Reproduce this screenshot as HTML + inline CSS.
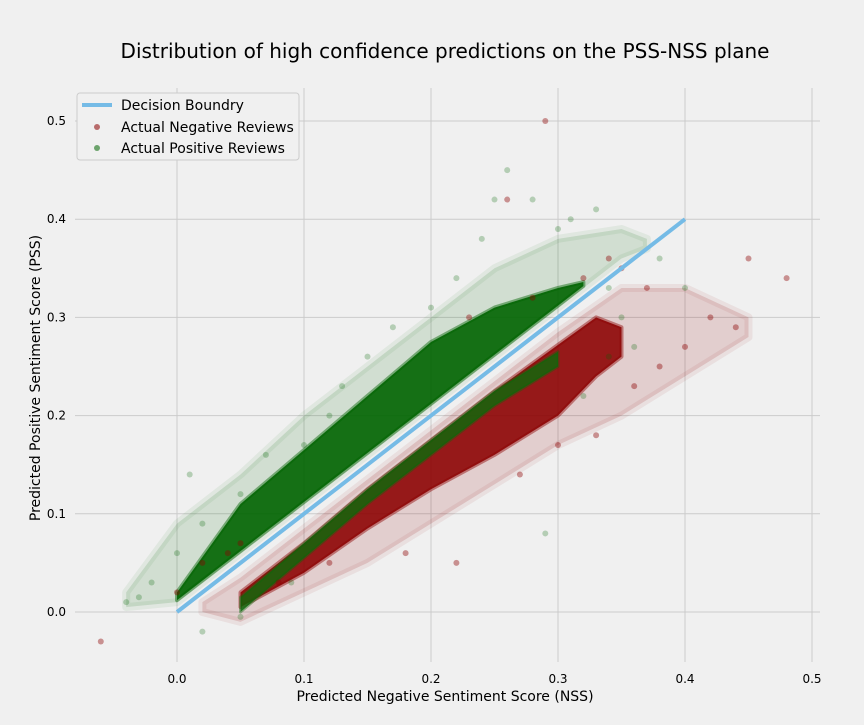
<!DOCTYPE html>
<html><head><meta charset="utf-8"><style>
body{margin:0;background:#f0f0f0;font-family:"Liberation Sans","DejaVu Sans",sans-serif}
svg text{font-family:"DejaVu Sans","Liberation Sans",sans-serif}
</style></head><body>
<svg id="chart" width="864" height="720" xmlns="http://www.w3.org/2000/svg">
<rect width="864" height="720" fill="#f0f0f0"/>
<text x="445" y="58" font-size="20" text-anchor="middle" fill="#000">Distribution of high confidence predictions on the PSS-NSS plane</text>
<g id="grid"></g>
<g id="marks"></g>
<g id="axes"></g>
<text x="445" y="701" font-size="14" text-anchor="middle">Predicted Negative Sentiment Score (NSS)</text>
<text transform="translate(40,378) rotate(-90)" font-size="14" text-anchor="middle">Predicted Positive Sentiment Score (PSS)</text>
<g>
<rect x="77" y="93" width="222" height="67" fill="#f0f0f0" stroke="#cccccc" rx="3"/>
<line x1="82" y1="105" x2="112" y2="105" stroke="#75bbe6" stroke-width="4"/>
<text x="121" y="110" font-size="14">Decision Boundry</text>
<circle cx="97" cy="127" r="3" fill="#8b0000" fill-opacity="0.55"/>
<text x="121" y="132" font-size="14">Actual Negative Reviews</text>
<circle cx="97" cy="148" r="3" fill="#006400" fill-opacity="0.55"/>
<text x="121" y="153" font-size="14">Actual Positive Reviews</text>
</g>
</svg>
<script>
const xTicks=[0.0,0.1,0.2,0.3,0.4,0.5];
const yTicks=[0.0,0.1,0.2,0.3,0.4,0.5];
const greenHaloX=[-0.04,0.0,0.05,0.1,0.15,0.2,0.25,0.3,0.35,0.37];
const greenHaloLo=[0.005,0.01,0.06,0.11,0.16,0.21,0.26,0.31,0.36,0.37];
const greenHaloHi=[0.02,0.09,0.14,0.2,0.25,0.3,0.35,0.38,0.39,0.38];
const greenCoreX=[0.0,0.05,0.1,0.15,0.2,0.25,0.3,0.32];
const greenCoreLo=[0.012,0.062,0.112,0.162,0.212,0.262,0.312,0.332];
const greenCoreHi=[0.02,0.11,0.165,0.22,0.275,0.31,0.33,0.336];
const redHaloX=[0.02,0.05,0.1,0.15,0.2,0.25,0.3,0.35,0.4,0.45];
const redHaloLo=[0.0,-0.01,0.02,0.05,0.09,0.13,0.17,0.2,0.24,0.28];
const redHaloHi=[0.01,0.035,0.085,0.135,0.185,0.235,0.285,0.33,0.33,0.3];
const redCoreX=[0.05,0.1,0.15,0.2,0.25,0.3,0.33,0.35];
const redCoreLo=[0.005,0.04,0.085,0.125,0.16,0.2,0.24,0.26];
const redCoreHi=[0.02,0.07,0.125,0.175,0.225,0.272,0.3,0.29];
const stripeX=[0.05,0.1,0.15,0.2,0.25,0.3];
const stripeLo=[0.0,0.055,0.11,0.16,0.21,0.25];
const stripeHi=[0.015,0.07,0.125,0.175,0.225,0.265];
const greenX=[-0.04,-0.03,-0.02,0.0,0.01,0.02,0.05,0.07,0.1,0.12,0.13,0.15,0.17,0.2,0.22,0.24,0.25,0.26,0.28,0.3,0.31,0.33,0.34,0.35,0.38,0.4,0.02,0.05,0.09,0.29,0.32,0.34,0.36];
const greenY=[0.01,0.015,0.03,0.06,0.14,0.09,0.12,0.16,0.17,0.2,0.23,0.26,0.29,0.31,0.34,0.38,0.42,0.45,0.42,0.39,0.40,0.41,0.33,0.30,0.36,0.33,-0.02,-0.005,0.03,0.08,0.22,0.26,0.27];
const redX=[-0.06,0.0,0.02,0.04,0.05,0.08,0.12,0.18,0.22,0.27,0.3,0.33,0.36,0.38,0.4,0.42,0.44,0.45,0.48,0.37,0.34,0.29,0.26,0.23,0.32,0.28,0.35];
const redY=[-0.03,0.02,0.05,0.06,0.07,0.03,0.05,0.06,0.05,0.14,0.17,0.18,0.23,0.25,0.27,0.3,0.29,0.36,0.34,0.33,0.36,0.5,0.42,0.3,0.34,0.32,0.35];
const sx=v=>177+v*1270, sy=v=>612-v*982;
const NS='http://www.w3.org/2000/svg';
function mk(t,a,p){const e=document.createElementNS(NS,t);for(const k in a)e.setAttribute(k,a[k]);p.appendChild(e);return e;}
const grid=document.getElementById('grid'),marks=document.getElementById('marks'),axes=document.getElementById('axes');
xTicks.forEach(t=>{const l=mk('line',{x1:sx(t),x2:sx(t),y1:88,y2:662,stroke:'#cbcbcb','stroke-width':1},grid);

const tx=mk('text',{x:sx(t),y:683,'font-size':12,'text-anchor':'middle'},axes);tx.textContent=t.toFixed(1);
});
yTicks.forEach(t=>{const l=mk('line',{x1:75,x2:820,y1:sy(t),y2:sy(t),stroke:'#cbcbcb','stroke-width':1},grid);

const tx=mk('text',{x:66,y:sy(t)+4,'font-size':12,'text-anchor':'end'},axes);tx.textContent=t.toFixed(1);
});
function band(xs,lo,hi,col,op,sw,name){let d='';xs.forEach((x,i)=>{d+=(i?'L':'M')+sx(x)+','+sy(hi[i]);});
for(let i=xs.length-1;i>=0;i--)d+='L'+sx(xs[i])+','+sy(lo[i]);
const p=mk('path',{d:d+'Z',fill:col,'fill-opacity':op,stroke:col,'stroke-opacity':op*0.5,'stroke-width':sw,'stroke-linejoin':'round'},marks);
}
band(redHaloX,redHaloLo,redHaloHi,'#8b0000',0.14,8,'negative-halo');
band(greenHaloX,greenHaloLo,greenHaloHi,'#006400',0.13,8,'positive-halo');
band(redCoreX,redCoreLo,redCoreHi,'#8b0000',0.88,4,'negative-core');
band(greenCoreX,greenCoreLo,greenCoreHi,'#006400',0.9,4,'positive-core');
band(stripeX,stripeLo,stripeHi,'#0a6a0a',0.8,3,'positive-stripe-in-negative');
redX.forEach((x,i)=>{const c=mk('circle',{cx:sx(x),cy:sy(redY[i]),r:3,fill:'#8b0000','fill-opacity':0.4},marks);
});
greenX.forEach((x,i)=>{const c=mk('circle',{cx:sx(x),cy:sy(greenY[i]),r:3,fill:'#006400','fill-opacity':0.25},marks);
});
const dl=mk('line',{x1:sx(0),y1:sy(0),x2:sx(0.4),y2:sy(0.4),stroke:'#75bbe6','stroke-width':4},marks);

</script>
</body></html>
